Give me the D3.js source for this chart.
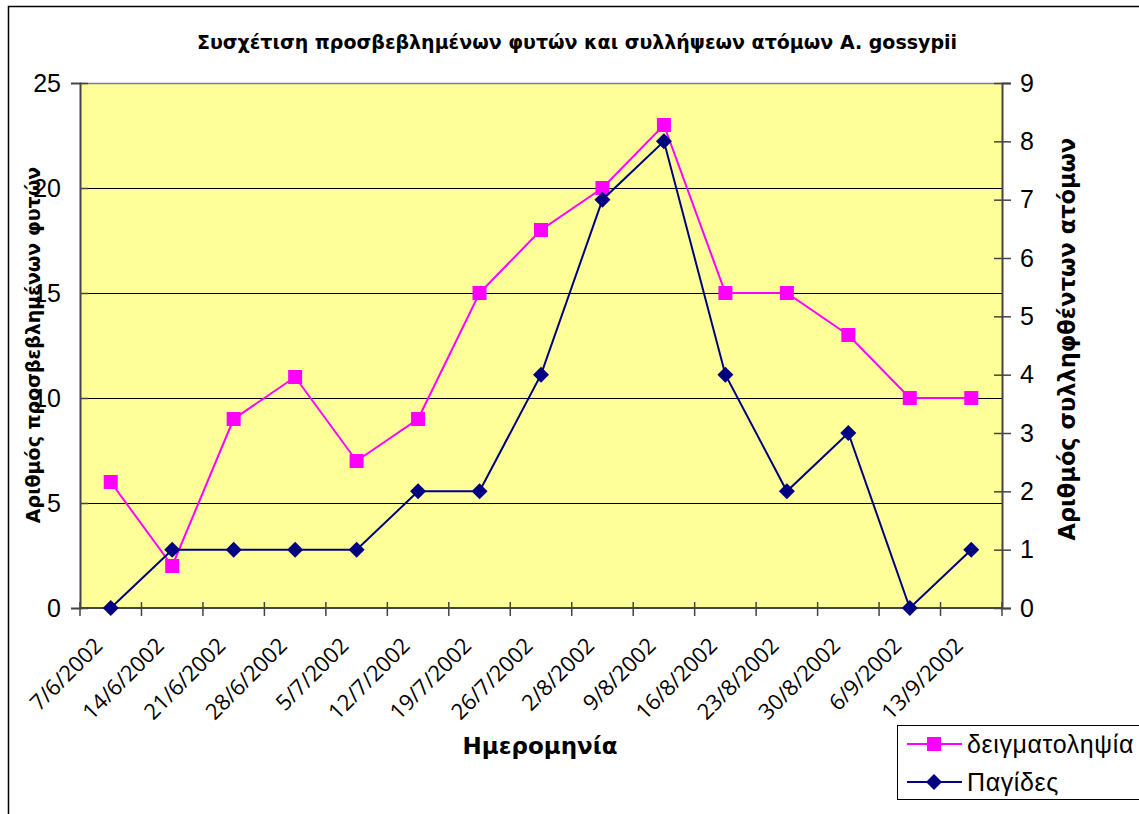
<!DOCTYPE html>
<html>
<head>
<meta charset="utf-8">
<script src="https://cdn.jsdelivr.net/npm/d3@7"></script>
<style>
  body { margin: 0; background: #fff; }
  svg { display: block; }
</style>
</head>
<body>
<svg id="chart" width="1139" height="814"></svg>
<script>
// dates on the x axis
const dates = ["7/6/2002", "14/6/2002", "21/6/2002", "28/6/2002", "5/7/2002", "12/7/2002",
  "19/7/2002", "26/7/2002", "2/8/2002", "9/8/2002", "16/8/2002", "23/8/2002",
  "30/8/2002", "6/9/2002", "13/9/2002"];
// infected plants (left axis)
const sampling = [6, 2, 9, 11, 7, 9, 15, 18, 20, 23, 15, 15, 13, 10, 10];
// trapped individuals (right axis)
const traps = [0, 1, 1, 1, 1, 2, 2, 4, 7, 8, 4, 2, 3, 0, 1];
const leftTicks = [0, 5, 10, 15, 20, 25];
const rightTicks = [0, 1, 2, 3, 4, 5, 6, 7, 8, 9];

const svg = d3.select("#chart");
const plot = { left: 80, right: 1002, top: 83, bottom: 608 };

// outer chart border (runs off the right/bottom edge)
svg.append("rect")
  .attr("x", 8.5).attr("y", 6.5)
  .attr("width", 1200).attr("height", 900)
  .attr("fill", "#fff").attr("stroke", "#000").attr("stroke-width", 1.5);

const x = d3.scaleBand().domain(dates).range([plot.left, plot.right]);
const yL = d3.scaleLinear().domain([0, 25]).range([plot.bottom, plot.top]);
const yR = d3.scaleLinear().domain([0, 9]).range([plot.bottom, plot.top]);

// plot background
svg.append("rect")
  .attr("x", plot.left).attr("y", plot.top)
  .attr("width", plot.right - plot.left).attr("height", plot.bottom - plot.top)
  .attr("fill", "#ffff99");

// gridlines
svg.append("g")
  .selectAll("line")
  .data(leftTicks.slice(1, -1))
  .join("line")
  .attr("x1", plot.left).attr("x2", plot.right)
  .attr("y1", d => Math.round(yL(d)) + 0.5).attr("y2", d => Math.round(yL(d)) + 0.5)
  .attr("stroke", "#000").attr("stroke-width", 1);

// top border of plot
svg.append("line")
  .attr("x1", plot.left).attr("x2", plot.right)
  .attr("y1", plot.top + 0.5).attr("y2", plot.top + 0.5)
  .attr("stroke", "#808080").attr("stroke-width", 1.5);

// left axis
const gL = svg.append("g").attr("transform", `translate(${plot.left},0)`)
  .call(d3.axisLeft(yL).tickValues(leftTicks).tickSize(9).tickPadding(10));
gL.selectAll(".tick line").attr("x2", 8);
gL.select(".domain").attr("stroke", "#444").attr("stroke-width", 2);
gL.selectAll(".tick line").attr("stroke", "#444").attr("stroke-width", 1.5);
gL.selectAll(".tick text")
  .attr("font-family", "Liberation Sans, Arial, sans-serif")
  .attr("font-size", 25).attr("fill", "#000");

// right axis
const gR = svg.append("g").attr("transform", `translate(${plot.right},0)`)
  .call(d3.axisRight(yR).tickValues(rightTicks).tickSize(9).tickPadding(9));
gR.selectAll(".tick line").attr("x1", -8);
gR.select(".domain").attr("stroke", "#444").attr("stroke-width", 2);
gR.selectAll(".tick line").attr("stroke", "#444").attr("stroke-width", 1.5);
gR.selectAll(".tick text")
  .attr("font-family", "Liberation Sans, Arial, sans-serif")
  .attr("font-size", 25).attr("fill", "#000");

// bottom axis: ticks on category boundaries
const gB = svg.append("g");
gB.append("line")
  .attr("x1", plot.left).attr("x2", plot.right)
  .attr("y1", plot.bottom).attr("y2", plot.bottom)
  .attr("stroke", "#444").attr("stroke-width", 2);
gB.selectAll("line.tk")
  .data(dates.concat(["end"]))
  .join("line")
  .attr("class", "tk")
  .attr("x1", (d, i) => plot.left + i * x.step())
  .attr("x2", (d, i) => plot.left + i * x.step())
  .attr("y1", plot.bottom - 6).attr("y2", plot.bottom + 8)
  .attr("stroke", "#444").attr("stroke-width", 1.5);
gB.selectAll("text")
  .data(dates)
  .join("text")
  .attr("transform", d => `translate(${x(d) + x.bandwidth() / 2 - 18},${plot.bottom + 28}) rotate(-45)`)
  .attr("text-anchor", "end")
  .attr("dy", "0.72em")
  .attr("font-family", "Open Sans, DejaVu Sans, sans-serif")
  .attr("font-size", 22)
  .attr("fill", "#000")
  .text(d => d);

const cx = d => x(d) + x.bandwidth() / 2;

// pink series
svg.append("path")
  .datum(sampling)
  .attr("fill", "none").attr("stroke", "#ff00ff").attr("stroke-width", 2)
  .attr("d", d3.line().x((d, i) => cx(dates[i])).y(d => yL(d)));
svg.append("g").selectAll("rect")
  .data(sampling)
  .join("rect")
  .attr("x", (d, i) => cx(dates[i]) - 7).attr("y", d => yL(d) - 7)
  .attr("width", 14).attr("height", 14)
  .attr("fill", "#ff00ff");

// navy series
svg.append("path")
  .datum(traps)
  .attr("fill", "none").attr("stroke", "#000080").attr("stroke-width", 2)
  .attr("d", d3.line().x((d, i) => cx(dates[i])).y(d => yR(d)));
const diamond = "M0,-8L8,0L0,8L-8,0Z";
svg.append("g").selectAll("path")
  .data(traps)
  .join("path")
  .attr("transform", (d, i) => `translate(${cx(dates[i])},${yR(d)})`)
  .attr("d", diamond)
  .attr("fill", "#000080");

// titles
svg.append("text")
  .attr("x", 577).attr("y", 49)
  .attr("text-anchor", "middle")
  .attr("font-family", "DejaVu Sans, Verdana, sans-serif")
  .attr("font-weight", "bold").attr("font-size", 19)
  .text("Συσχέτιση προσβεβλημένων φυτών και συλλήψεων ατόμων A. gossypii");

svg.append("text")
  .attr("x", 540).attr("y", 754)
  .attr("text-anchor", "middle")
  .attr("font-family", "DejaVu Sans, Verdana, sans-serif")
  .attr("font-weight", "bold").attr("font-size", 23)
  .text("Ημερομηνία");

svg.append("text")
  .attr("transform", "translate(40,345) rotate(-90)")
  .attr("text-anchor", "middle")
  .attr("font-family", "DejaVu Sans, Verdana, sans-serif")
  .attr("font-weight", "bold").attr("font-size", 19)
  .text("Αριθμός προσβεβλημένων φυτών");

svg.append("text")
  .attr("transform", "translate(1075,339) rotate(-90)")
  .attr("text-anchor", "middle")
  .attr("font-family", "DejaVu Sans, Verdana, sans-serif")
  .attr("font-weight", "bold").attr("font-size", 22.5)
  .text("Αριθμός συλληφθέντων ατόμων");

// legend
const legend = svg.append("g");
legend.append("rect")
  .attr("x", 897.5).attr("y", 725.5).attr("width", 300).attr("height", 74)
  .attr("fill", "#fff").attr("stroke", "#000").attr("stroke-width", 1);
const legendItems = [
  { name: "δειγματοληψία", color: "#ff00ff", shape: "square" },
  { name: "Παγίδες", color: "#000080", shape: "diamond" }
];
legendItems.forEach((it, i) => {
  const ly = 744 + i * 38;
  legend.append("line")
    .attr("x1", 907).attr("x2", 962).attr("y1", ly).attr("y2", ly)
    .attr("stroke", it.color).attr("stroke-width", 2);
  if (it.shape === "square") {
    legend.append("rect").attr("x", 927).attr("y", ly - 7).attr("width", 14).attr("height", 14).attr("fill", it.color);
  } else {
    legend.append("path").attr("transform", `translate(934,${ly})`).attr("d", diamond).attr("fill", it.color);
  }
  legend.append("text")
    .attr("x", 967).attr("y", ly).attr("dy", "0.35em")
    .attr("font-family", "Liberation Sans, Arial, sans-serif")
    .attr("font-size", 25).attr("letter-spacing", 0.6)
    .text(it.name);
});
</script>
</body>
</html>
